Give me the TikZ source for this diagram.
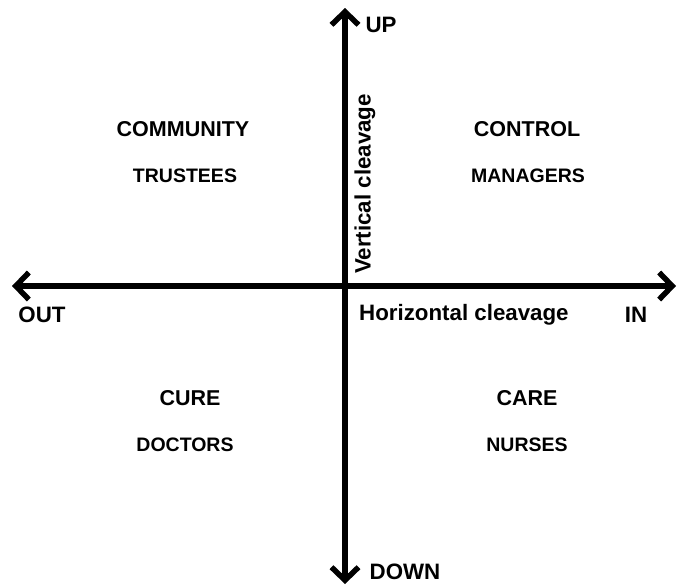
\documentclass[tikz,border=0pt]{standalone}
\usepackage{fontspec}
\setmainfont{Liberation Sans}
\usetikzlibrary{arrows.meta,calc}

\begin{document}
\begin{tikzpicture}[x=1pt,y=-1pt,
    axis/.style={line width=5.5pt, {Straight Barb[length=13pt,width=27pt]}-{Straight Barb[length=13pt,width=27pt]}},
    big/.style={font=\bfseries\fontsize{21.5}{24}\selectfont, inner sep=0pt},
    small/.style={font=\bfseries\fontsize{19.5}{22}\selectfont, inner sep=0pt},
    tag/.style={font=\bfseries\fontsize{22.3}{25}\selectfont, inner sep=0pt}
    ]
      \useasboundingbox (0,0) rectangle (678,587);
      \coordinate (up) at (345,8);
      \coordinate (down) at (345,584);
      \coordinate (out) at (12,286);
      \coordinate (in) at (676,286);
      \draw[axis] (down) -- (up);
      \draw[axis] (out) -- (in);

      % quadrants
      \node[big] at (183,129) (community) {COMMUNITY};
      \node[small] at (185,176) (trustees) {TRUSTEES};
      \node[big] at (527,129) (control) {CONTROL};
      \node[small] at (528,176) (managers) {MANAGERS};
      \node[big] at (190,398) (cure) {CURE};
      \node[small] at (185,445) (doctors) {DOCTORS};
      \node[big] at (527,398) (care) {CARE};
      \node[small] at (527,445) (nurses) {NURSES};

      % axis labels
      \node[tag] at (381,25) (uplbl) {UP};
      \node[tag] at (405,572) (downlbl) {DOWN};
      \node[tag] at (42,315) (outlbl) {OUT};
      \node[tag] at (636,315) (inlbl) {IN};
      \node[tag, anchor=west] at (359,315) (hcleave) {Horizontal cleavage};
      \node[tag, rotate=90] at (365,184) (vcleave) {Vertical cleavage};
    \end{tikzpicture}
\end{document}
